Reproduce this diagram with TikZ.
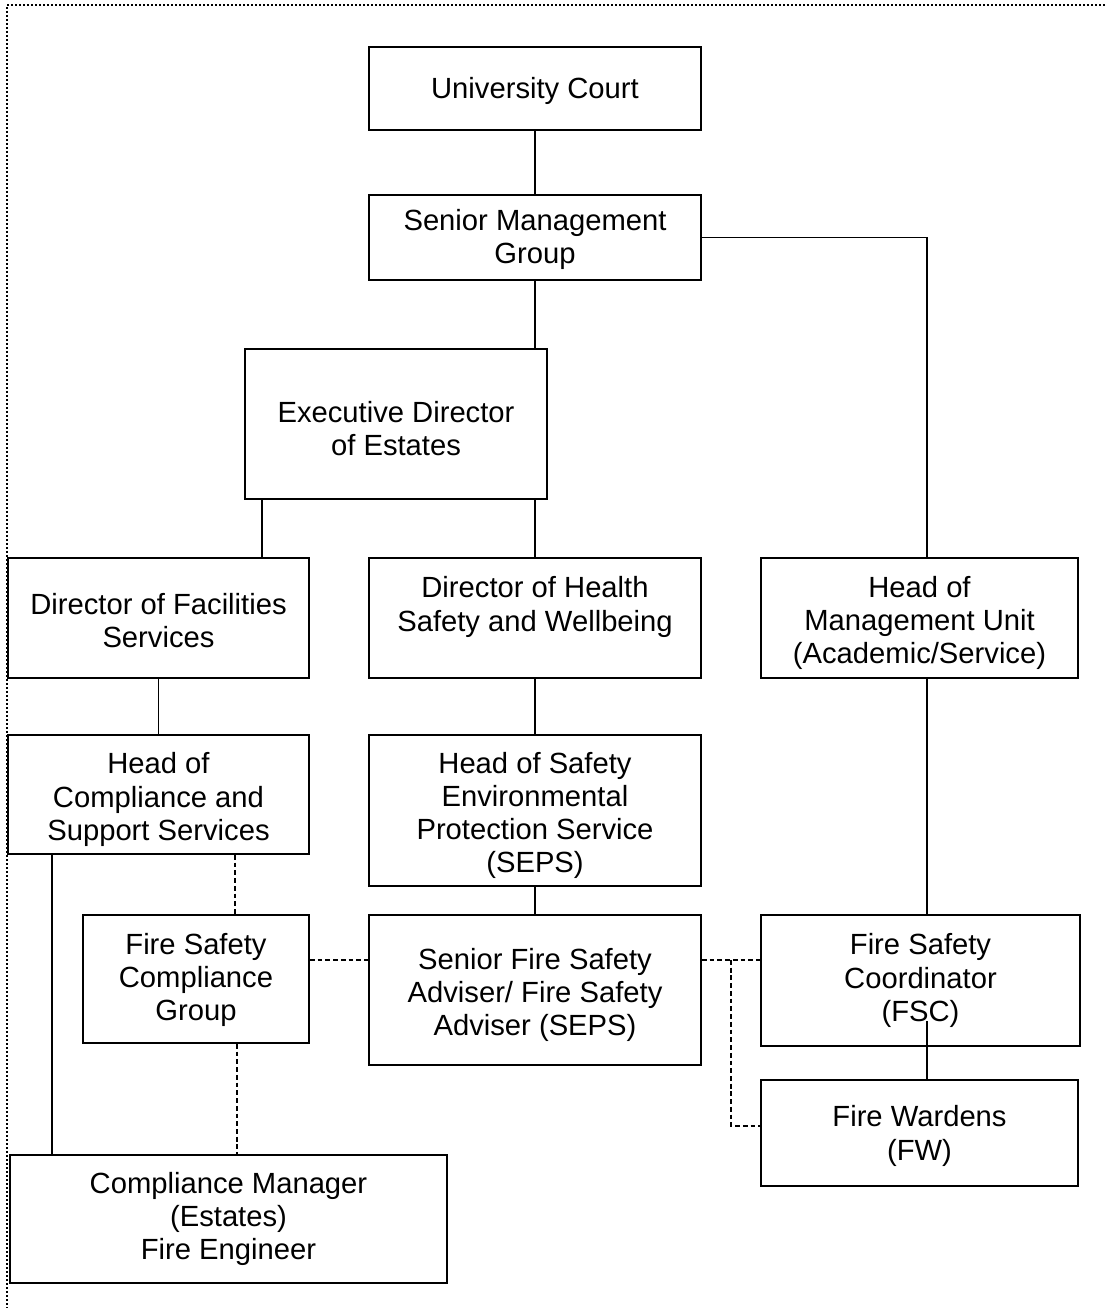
\documentclass[tikz,border=0pt]{standalone}
\usepackage{fontspec}
\setmainfont{Liberation Sans}
\usetikzlibrary{calc}
\newcommand\tpadx[1]{\rule{0pt}{#1}}
\begin{document}
\begin{tikzpicture}[x=0.75pt,y=-0.75pt,
  box/.style={draw,line width=1.4pt,fill=white,align=center,inner sep=2pt,
    font=\fontsize{21.9pt}{24.9pt}\selectfont},
  tshift/.style={text depth={4.64pt-1.5pt*(#1)}},
  link/.style={line width=1.4pt},
  dlink/.style={line width=1.1pt,dash pattern=on 3.6pt off 2.2pt},
  frame/.style={line width=1.5pt,dash pattern=on 1.4pt off 1.6pt}]
\useasboundingbox (0,0) rectangle (1105,1308);
% frame
\coordinate (f0) at (7,5);
\coordinate (f1) at (1105,5);
\coordinate (f2) at (7,1308);
\draw[frame] (f1) -- (f0) -- (f2);
% boxes
\node[box,tshift=3,minimum width=249pt,minimum height=62.25pt] (uc) at (535,88.5) {University Court};
\node[box,tshift=2,minimum width=249pt,minimum height=63.75pt] (smg) at (535,237.5) {Senior Management\\Group};
\node[box,text depth=0pt,minimum width=226.5pt,minimum height=112.5pt] (ed) at (396,424) {\tpadx{22pt}Executive Director\\of Estates};
\node[box,text depth=0pt,minimum width=225.75pt,minimum height=90pt] (dfs) at (158.5,618) {\tpadx{19pt}Director of Facilities\\Services};
\node[box,minimum width=249pt,minimum height=90pt,text depth=21.25pt] (dhsw) at (535,618) {Director of Health\\Safety and Wellbeing};
\node[box,text depth=0pt,minimum width=237.75pt,minimum height=90pt] (hmu) at (919.5,618) {\tpadx{19pt}Head of\\Management Unit\\(Academic/Service)};
\node[box,text depth=0pt,minimum width=225.75pt,minimum height=89.25pt] (hcss) at (158.5,794.5) {\tpadx{19pt}Head of\\Compliance and\\Support Services};
\node[box,text depth=0pt,minimum width=249pt,minimum height=113.25pt] (hseps) at (535,810.5) {\tpadx{19pt}Head of Safety\\Environmental\\Protection Service\\(SEPS)};
\node[box,tshift=1,minimum width=169.5pt,minimum height=96pt] (fscg) at (196,979) {Fire Safety\\Compliance\\Group};
\node[box,text depth=0pt,minimum width=249pt,minimum height=112.5pt] (sfsa) at (535,990) {\tpadx{19pt}Senior Fire Safety\\Adviser/ Fire Safety\\Adviser (SEPS)};
\node[box,minimum width=239.25pt,minimum height=98.25pt] (fsc) at (920.5,980.5) {Fire Safety\\Coordinator\\(FSC)};
\node[box,tshift=5.5,minimum width=237.75pt,minimum height=79.5pt] (fw) at (919.5,1133) {Fire Wardens\\(FW)};
\node[box,minimum width=327.75pt,minimum height=96pt] (cm) at (228.5,1219) {Compliance Manager\\(Estates)\\Fire Engineer};
% helper coordinates
\coordinate (x52) at (52,0);
\coordinate (x235) at (235,0);
\coordinate (x237) at (237,0);
\coordinate (x262) at (262,0);
\coordinate (x731) at (731,0);
\coordinate (x927) at (927,0);
\coordinate (y960) at (0,960);
\coordinate (y1126) at (0,1126);
\coordinate (fscin) at (927,1021);
% solid connectors
\draw[link] (uc.south) -- (smg.north);
\draw[link] (smg.south) -- (smg.south |- ed.north);
\draw[link] (smg.east) -| (hmu.north -| x927);
\draw[link] (ed.south -| x262) -- (dfs.north -| x262);
\draw[link] (dhsw.north |- ed.south) -- (dhsw.north);
\draw[link] (dfs.south) -- (hcss.north);
\draw[link] (dhsw.south) -- (hseps.north);
\draw[link] (hseps.south) -- (sfsa.north);
\draw[link] (hmu.south -| x927) -- (fsc.north -| x927);
\draw[link] (fscin) -- (fw.north -| x927);
\draw[link] (hcss.south -| x52) -- (cm.north -| x52);
% dashed connectors
\draw[dlink] (hcss.south -| x235) -- (fscg.north -| x235);
\draw[dlink] (fscg.south -| x237) -- (cm.north -| x237);
\draw[dlink] (fscg.east |- y960) -- (sfsa.west |- y960);
\draw[dlink] (sfsa.east |- y960) -- (fsc.west |- y960);
\draw[dlink] (x731 |- y960) |- (fw.west |- y1126);
\end{tikzpicture}
\end{document}
